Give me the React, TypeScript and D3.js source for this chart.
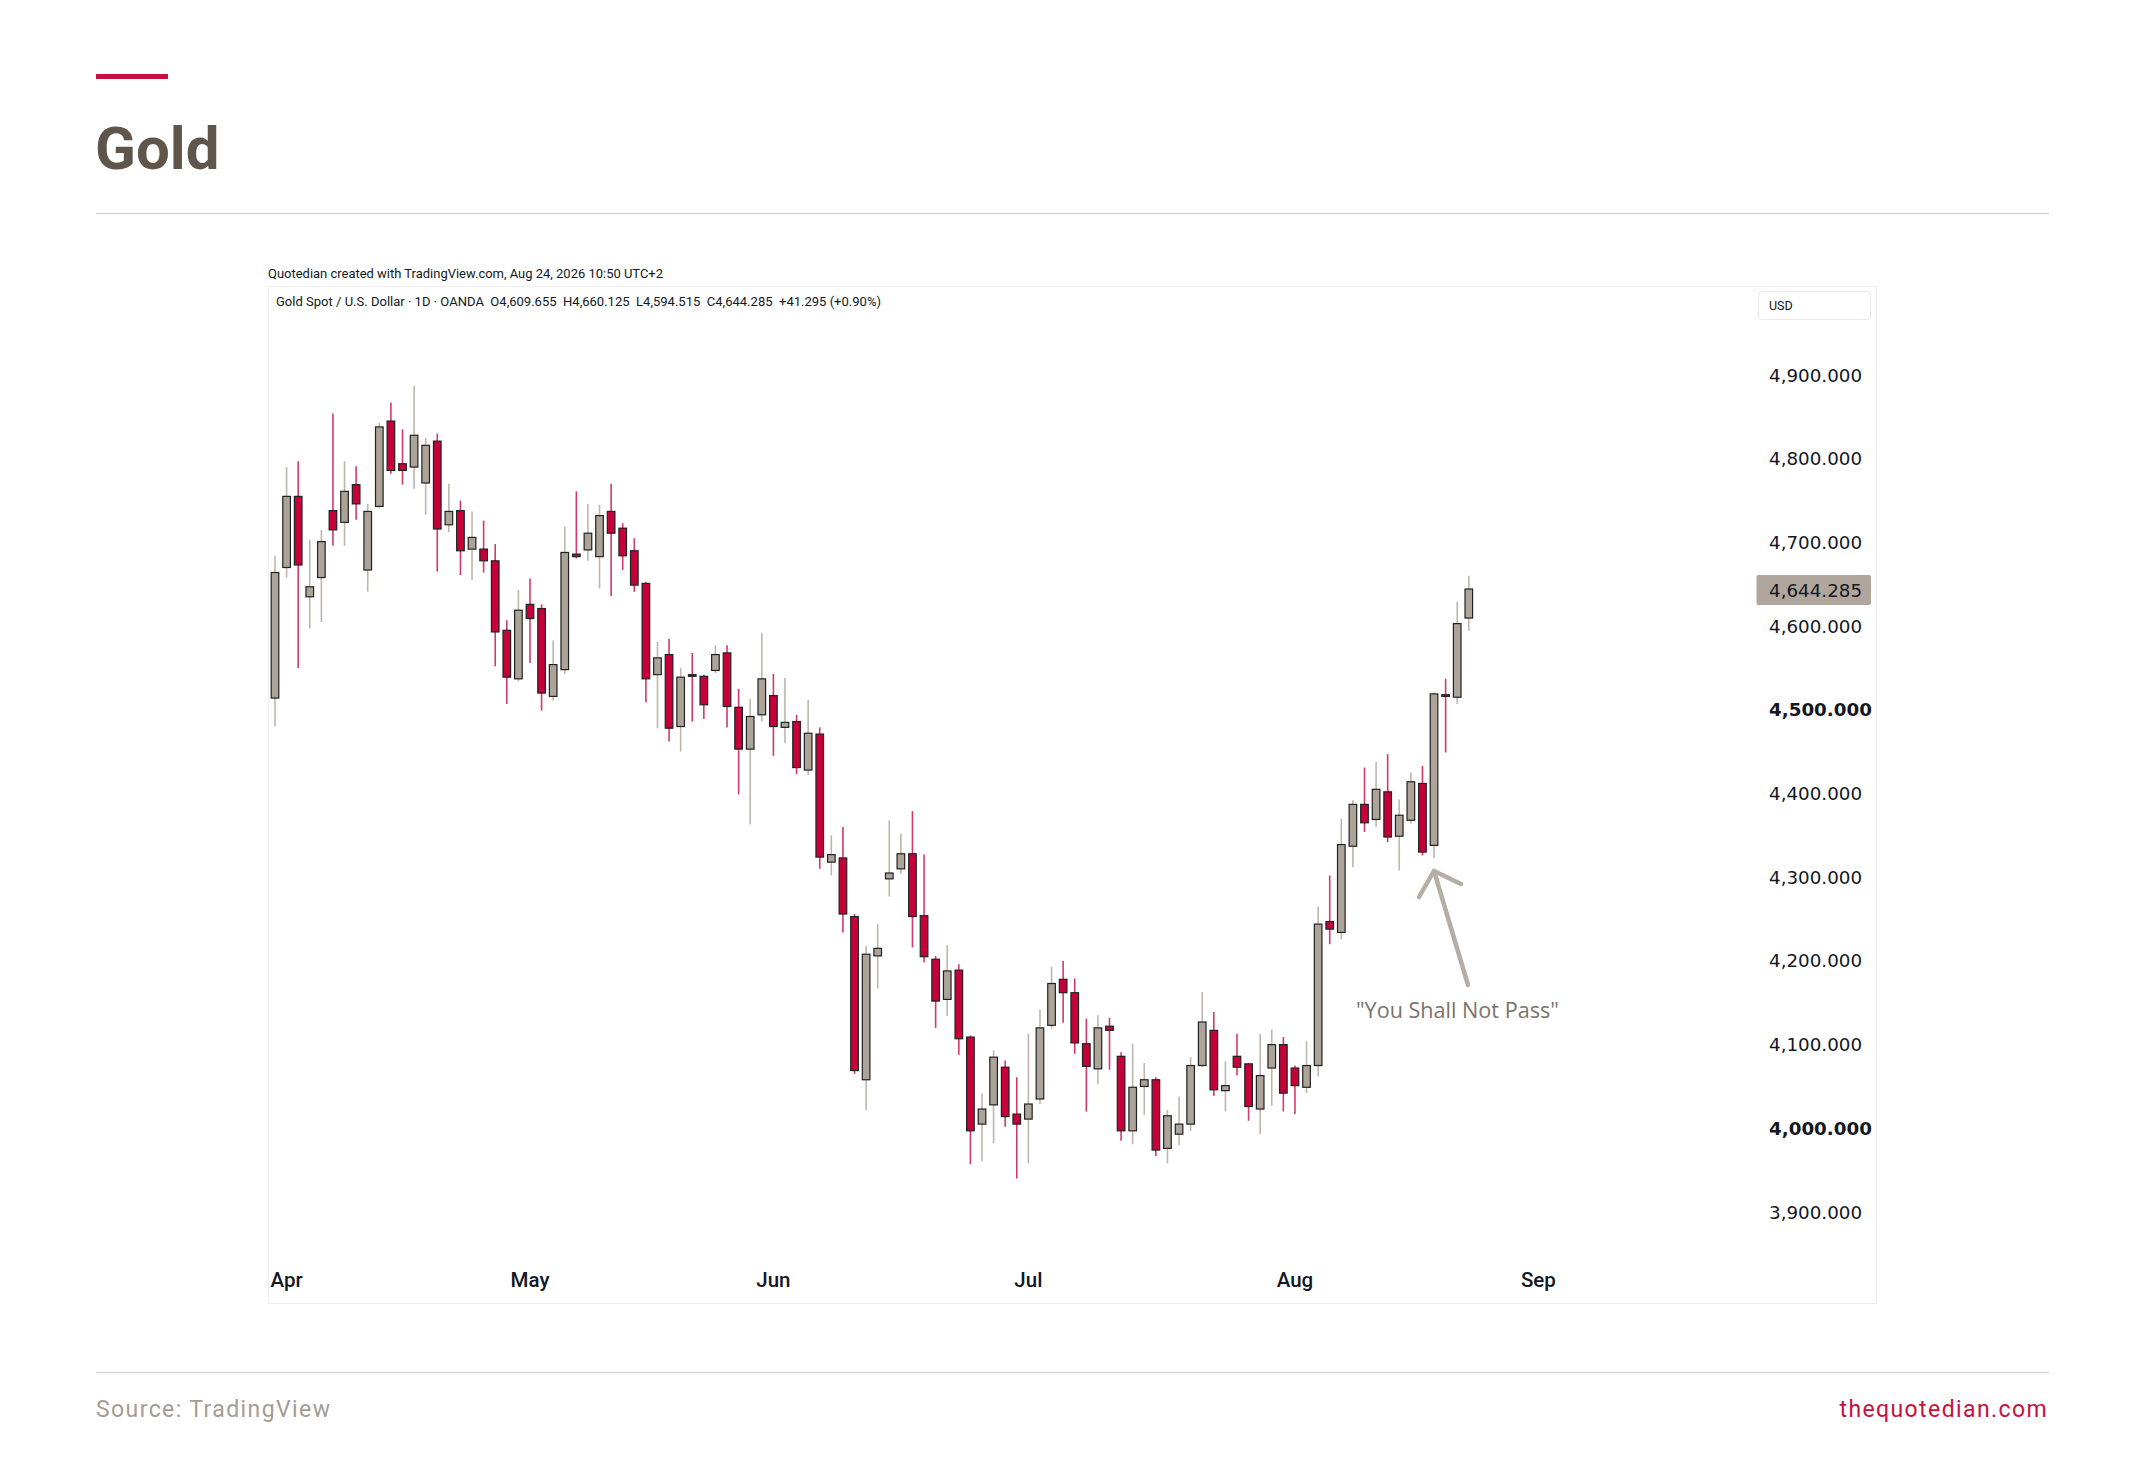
import * as d3 from "d3";

// trading days shown on the chart (OANDA daily, Good Friday closed)
const dates = [
  "2026-03-31",
  "2026-04-01", "2026-04-02", "2026-04-06", "2026-04-07", "2026-04-08", "2026-04-09", "2026-04-10",
  "2026-04-13", "2026-04-14", "2026-04-15", "2026-04-16", "2026-04-17",
  "2026-04-20", "2026-04-21", "2026-04-22", "2026-04-23", "2026-04-24",
  "2026-04-27", "2026-04-28", "2026-04-29", "2026-04-30",
  "2026-05-01", "2026-05-04", "2026-05-05", "2026-05-06", "2026-05-07", "2026-05-08",
  "2026-05-11", "2026-05-12", "2026-05-13", "2026-05-14", "2026-05-15",
  "2026-05-18", "2026-05-19", "2026-05-20", "2026-05-21", "2026-05-22",
  "2026-05-25", "2026-05-26", "2026-05-27", "2026-05-28", "2026-05-29",
  "2026-06-01", "2026-06-02", "2026-06-03", "2026-06-04", "2026-06-05",
  "2026-06-08", "2026-06-09", "2026-06-10", "2026-06-11", "2026-06-12",
  "2026-06-15", "2026-06-16", "2026-06-17", "2026-06-18", "2026-06-19",
  "2026-06-22", "2026-06-23", "2026-06-24", "2026-06-25", "2026-06-26",
  "2026-06-29", "2026-06-30",
  "2026-07-01", "2026-07-02", "2026-07-03",
  "2026-07-06", "2026-07-07", "2026-07-08", "2026-07-09", "2026-07-10",
  "2026-07-13", "2026-07-14", "2026-07-15", "2026-07-16", "2026-07-17",
  "2026-07-20", "2026-07-21", "2026-07-22", "2026-07-23", "2026-07-24",
  "2026-07-27", "2026-07-28", "2026-07-29", "2026-07-30", "2026-07-31",
  "2026-08-03", "2026-08-04", "2026-08-05", "2026-08-06", "2026-08-07",
  "2026-08-10", "2026-08-11", "2026-08-12", "2026-08-13", "2026-08-14",
  "2026-08-17", "2026-08-18", "2026-08-19", "2026-08-20", "2026-08-21",
  "2026-08-24",
];

const open = [
  4514, 4670, 4755, 4635, 4658, 4738, 4724, 4769, 4667, 4743, 4845, 4794, 4790, 4771, 4821, 4721,
  4738, 4692, 4692, 4678, 4595, 4537, 4626, 4621, 4516, 4548, 4686, 4691, 4683, 4737, 4717, 4690,
  4651, 4542, 4566, 4480, 4542, 4540, 4547, 4568, 4503, 4453, 4494, 4517, 4479, 4486, 4428, 4471,
  4318, 4323, 4253, 4058, 4206, 4298, 4310, 4328, 4254, 4202, 4154, 4189, 4109, 4005, 4028, 4073,
  4017, 4011, 4035, 4123, 4178, 4162, 4101, 4071, 4122, 4086, 3997, 4050, 4058, 3976, 3993, 4005,
  4075, 4117, 4045, 4086, 4077, 4023, 4072, 4100, 4072, 4049, 4075, 4247, 4234, 4337, 4387, 4369,
  4402, 4349, 4368, 4412, 4338, 4518, 4515, 4609.655,
];
const high = [
  4684, 4790, 4797, 4703, 4715, 4854, 4797, 4791, 4746, 4843, 4867, 4835, 4887, 4825, 4830, 4770,
  4750, 4737, 4726, 4698, 4607, 4643, 4657, 4626, 4583, 4719, 4761, 4746, 4745, 4770, 4723, 4705,
  4653, 4581, 4585, 4550, 4568, 4542, 4577, 4577, 4525, 4513, 4592, 4543, 4538, 4494, 4512, 4479,
  4350, 4360, 4256, 4218, 4244, 4368, 4352, 4379, 4327, 4206, 4219, 4196, 4111, 4042, 4093, 4081,
  4061, 4113, 4142, 4193, 4200, 4179, 4131, 4135, 4132, 4091, 4101, 4078, 4061, 4022, 4038, 4085,
  4163, 4139, 4080, 4113, 4078, 4113, 4118, 4109, 4075, 4104, 4265, 4302, 4370, 4392, 4431, 4438,
  4447, 4393, 4425, 4433, 4521, 4537, 4629, 4660.125,
];
const low = [
  4480, 4658, 4550, 4597, 4605, 4696, 4696, 4727, 4641, 4741, 4782, 4769, 4764, 4733, 4665, 4712,
  4661, 4655, 4664, 4552, 4507, 4534, 4556, 4499, 4511, 4543, 4681, 4678, 4645, 4636, 4667, 4641,
  4509, 4478, 4462, 4450, 4486, 4489, 4544, 4479, 4399, 4363, 4486, 4445, 4460, 4423, 4422, 4310,
  4302, 4234, 4065, 4022, 4167, 4277, 4304, 4216, 4198, 4120, 4134, 4088, 3957, 3961, 3982, 4002,
  3940, 3958, 4029, 4119, 4126, 4089, 4020, 4053, 4070, 3985, 3981, 4016, 3967, 3958, 3980, 3997,
  4073, 4039, 4020, 4063, 4009, 3993, 4027, 4020, 4017, 4042, 4062, 4220, 4226, 4312, 4354, 4360,
  4342, 4308, 4364, 4326, 4323, 4449, 4507, 4594.515,
];
const close = [
  4664, 4755, 4673, 4647, 4701, 4715, 4761, 4746, 4737, 4838, 4786, 4786, 4828, 4816, 4716, 4737,
  4690, 4706, 4678, 4593, 4539, 4619, 4609, 4520, 4554, 4688, 4683, 4711, 4732, 4711, 4684, 4649,
  4537, 4562, 4478, 4539, 4540, 4506, 4566, 4504, 4453, 4492, 4537, 4480, 4485, 4431, 4472, 4324,
  4327, 4256, 4069, 4208, 4215, 4305, 4328, 4253, 4205, 4152, 4188, 4107, 3997, 4023, 4085, 4014,
  4005, 4029, 4120, 4173, 4162, 4102, 4074, 4120, 4117, 3997, 4049, 4058, 3974, 4015, 4005, 4075,
  4127, 4046, 4051, 4073, 4026, 4063, 4100, 4042, 4051, 4075, 4244, 4238, 4339, 4387, 4365, 4405,
  4348, 4374, 4414, 4330, 4519, 4516, 4603, 4644.285,
];

const monthTicks = [
  { label: "Apr", date: "2026-04-01" },
  { label: "May", date: "2026-05-01" },
  { label: "Jun", date: "2026-06-01" },
  { label: "Jul", date: "2026-07-01" },
  { label: "Aug", date: "2026-08-03" },
  { label: "Sep", date: "2026-09-01" },
];

const priceTicks = [4900, 4800, 4700, 4600, 4500, 4400, 4300, 4200, 4100, 4000, 3900];
const boldTicks = [4500, 4000];

const legendText =
  "Gold Spot / U.S. Dollar \u00b7 1D \u00b7 OANDA  O4,609.655  H4,660.125  L4,594.515  C4,644.285  +41.295 (+0.90%)";
const creditText = "Quotedian created with TradingView.com, Aug 24, 2026 10:50 UTC+2";

const W = 2145;
const H = 1458;

const UP_FILL = "#aca399";
const DOWN_FILL = "#c60039";
const UP_WICK = "#bdb6ae";
const DOWN_WICK = "#d23a6b";
const OUTLINE = "#222";

const parse = d3.utcParse("%Y-%m-%d");

export default function App() {
  const x = d3.scaleLinear().domain([0, dates.length - 1]).range([275, 1468.8]);
  const y = d3.scaleLinear().domain([3900, 4900]).range([1212, 375]);

  // index of a date on the trading-day axis (weekdays after the last bar)
  const indexOf = (s: string) => {
    const i = dates.indexOf(s);
    if (i >= 0) return i;
    const last = parse(dates[dates.length - 1])!;
    const target = parse(s)!;
    const extra = d3.utcDay
      .range(d3.utcDay.offset(last, 1), d3.utcDay.offset(target, 1))
      .filter((d) => d.getUTCDay() !== 0 && d.getUTCDay() !== 6).length;
    return dates.length - 1 + extra;
  };

  const fmt = d3.format(",.3f");
  const bodyW = 7.6;
  const lastClose = close[close.length - 1];

  const candles = dates.map((d, i) => ({
    date: d,
    o: open[i],
    h: high[i],
    l: low[i],
    c: close[i],
  }));

  return (
    <svg
      width={W}
      height={H}
      viewBox={`0 0 ${W} ${H}`}
      style={{ position: "absolute", left: 0, top: 0, background: "#fff" }}
    >
      {/* page header */}
      <rect x={96} y={74} width={72} height={5} fill="#c8103e" />
      <text x={95} y={169} fontFamily="Roboto, sans-serif" fontWeight={700} fontSize={60} fill="#5f554b">
        Gold
      </text>
      <line x1={96} x2={2049} y1={213.5} y2={213.5} stroke="#d6d6d6" strokeWidth={1.5} />

      {/* TradingView panel */}
      <text
        x={268}
        y={278}
        fontFamily="'Liberation Sans Narrow', Roboto, sans-serif"
        fontSize={13}
        fill="#131722"
        textLength={395}
        lengthAdjust="spacingAndGlyphs"
      >
        {creditText}
      </text>
      <rect x={268.5} y={286.5} width={1608} height={1017} fill="none" stroke="#eceef2" strokeWidth={1} />
      <text
        x={276}
        y={306}
        fontFamily="'Liberation Sans Narrow', Roboto, sans-serif"
        fontSize={12.5}
        fill="#131722"
        textLength={605}
        lengthAdjust="spacingAndGlyphs"
        style={{ whiteSpace: "pre" }}
      >
        {legendText}
      </text>

      <rect x={1758.5} y={291.5} width={112} height={28} rx={3} fill="#fff" stroke="#e6e8ee" />
      <text x={1769} y={310} fontFamily="'Liberation Sans Narrow', Roboto, sans-serif" fontSize={12.5} fill="#131722">
        USD
      </text>

      {/* price axis */}
      {priceTicks.map((v) => (
        <text
          key={v}
          x={1769}
          y={y(v)}
          dy="0.36em"
          fontFamily="'DejaVu Sans', Verdana, sans-serif"
          fontSize={18.3}
          fontWeight={boldTicks.includes(v) ? 700 : 400}
          fill="#131722"
        >
          {fmt(v)}
        </text>
      ))}
      <rect x={1756.5} y={y(lastClose) - 14} width={114.5} height={30} rx={2} fill="#b0a69b" />
      <text
        x={1769}
        y={y(lastClose) + 1}
        dy="0.36em"
        fontFamily="'DejaVu Sans', Verdana, sans-serif"
        fontSize={18.3}
        fill="#131722"
      >
        {fmt(lastClose)}
      </text>

      {/* time axis */}
      {monthTicks.map((t) => (
        <text
          key={t.label}
          x={x(indexOf(t.date))}
          y={1287}
          textAnchor="middle"
          fontFamily="Roboto, sans-serif"
          fontWeight={500}
          fontSize={20.5}
          fill="#131722"
        >
          {t.label}
        </text>
      ))}

      {/* candles */}
      {candles.map((k, i) => {
        const up = k.c >= k.o;
        const cx = x(i);
        const top = y(Math.max(k.o, k.c));
        const bot = y(Math.min(k.o, k.c));
        return (
          <g key={k.date}>
            <line
              x1={cx}
              x2={cx}
              y1={y(k.h)}
              y2={y(k.l)}
              stroke={up ? UP_WICK : DOWN_WICK}
              strokeWidth={1.6}
            />
            <rect
              x={cx - bodyW / 2}
              y={top}
              width={bodyW}
              height={Math.max(bot - top, 1.5)}
              fill={up ? UP_FILL : DOWN_FILL}
              stroke={OUTLINE}
              strokeWidth={1.2}
            />
          </g>
        );
      })}

      {/* annotation */}
      <g stroke="#b4aea7" strokeWidth={4.5} strokeLinecap="round" strokeLinejoin="round" fill="none">
        <line x1={1468} y1={985} x2={1434} y2={871} />
        <polyline points="1419,897 1434,871 1461,884" />
      </g>
      <text x={1356} y={1018} fontFamily="'Open Sans', sans-serif" fontSize={21.6} fill="#7b736b">
        "You Shall Not Pass"
      </text>

      {/* footer */}
      <line x1={96} x2={2049} y1={1372.5} y2={1372.5} stroke="#d6d6d6" strokeWidth={1.5} />
      <text x={96} y={1417} fontFamily="Roboto, sans-serif" fontSize={23} letterSpacing={1.4} fill="#a59c93">
        Source: TradingView
      </text>
      <text
        x={2048}
        y={1417}
        textAnchor="end"
        fontFamily="Roboto, sans-serif"
        fontSize={23}
        letterSpacing={1.4}
        fill="#c8103e"
      >
        thequotedian.com
      </text>
    </svg>
  );
}
